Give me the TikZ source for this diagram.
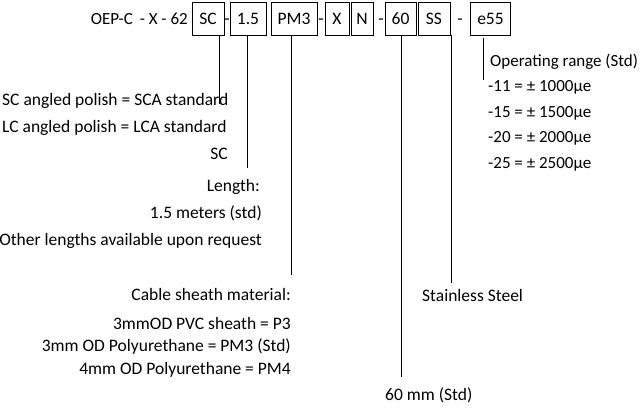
\documentclass[tikz,border=0pt]{standalone}
\usepackage{fontspec}
\setmainfont{Carlito}
\usetikzlibrary{calc}

\tikzset{
  seg/.style={draw, line width=0.6pt, minimum height=33pt, inner sep=0pt,
    font=\fontsize{17.5}{20}\selectfont},
  lbl/.style={inner sep=0pt, text height=12pt, text depth=3.5pt,
    font=\fontsize{17.5}{20}\selectfont},
  rng/.style={lbl, anchor=west, font=\fontsize{17}{20}\selectfont},
  lead/.style={line width=0.6pt}
}

\begin{document}
\begin{tikzpicture}[x=1pt,y=-1pt]
\useasboundingbox (0,0) rectangle (640,410);

% Part number: OEP-C - X - 62 ...

\node[lbl, anchor=east, font=\fontsize{17}{20}\selectfont] (head) at (188,20) {OEP-C\hspace{3pt} - X - 62};
\node[seg, minimum width=32pt] (sc) at (208,18.5) {SC};
\node[lbl] (d1) at (227,20) {-};
\node[seg, minimum width=36pt] (len) at (248,18.5) {1.5};
\node[seg, minimum width=46pt] (pm) at (294,18.5) {PM3};
\node[lbl] (d2) at (321,20) {-};
\node[seg, minimum width=24pt] (xx) at (337,18.5) {X};
\node[seg, minimum width=22pt] (nn) at (362,18.5) {N};
\node[lbl] (d3) at (381,20) {-};
\node[seg, minimum width=31pt] (six) at (400.5,18.5) {60};
\node[seg, minimum width=32pt] (ss) at (434,18.5) {SS};
\node[lbl] (d4) at (460,20) {-};
\node[seg, minimum width=40pt] (op) at (490.5,18.5) {e55};

% line ends
\coordinate (scend) at (219,104);
\coordinate (lenend) at (247.5,168);
\coordinate (pmend) at (291,275);
\coordinate (sixend) at (401.5,377);
\coordinate (ssend) at (451.5,283);
\coordinate (optop) at (483,38);
\coordinate (opend) at (483,80);

\draw[lead] (sc.south -| scend) -- (scend);
\draw[lead] (len.south -| lenend) -- (lenend);
\draw[lead] (pm.south -| pmend) -- (pmend);
\draw[lead] (six.south -| sixend) -- (sixend);
\draw[lead] (ss.south -| ssend) -- (ssend);
\draw[lead] (optop) -- (opend);

% connector
\node[lbl, anchor=west] (c1) at (2,101) {SC angled polish = SCA standard};
\node[lbl, anchor=west] (c2) at (2,128) {LC angled polish = LCA standard};
\node[lbl, anchor=east] (c3) at (228,155) {SC};

% length
\node[lbl, anchor=east] (l1) at (260,187) {Length:};
\node[lbl, anchor=east] (l2) at (262,214) {1.5 meters (std)};
\node[lbl, anchor=east] (l3) at (262,241) {Other lengths available upon request};

% cable sheath
\node[lbl, anchor=east] (m1) at (291,296) {Cable sheath material:};
\node[lbl, anchor=east] (m2) at (291,325) {3mmOD PVC sheath = P3};
\node[lbl, anchor=east] (m3) at (291,347) {3mm OD Polyurethane = PM3 (Std)};
\node[lbl, anchor=east] (m4) at (291,370) {4mm OD Polyurethane = PM4};

% gauge length and material
\node[lbl, anchor=west] (g1) at (385,396) {60 mm (Std)};
\node[lbl, anchor=west] (s1) at (422,297) {Stainless Steel};

% operating range
\node[rng] (r0) at (490,62) {Operating range (Std)};
\foreach \k/\v [count=\i] in {11/1000,15/1500,20/2000,25/2500}
  \node[rng] (r\i) at (488,62+25.5*\i) {-\k{} = ± \v µe};

\end{tikzpicture}
\end{document}
